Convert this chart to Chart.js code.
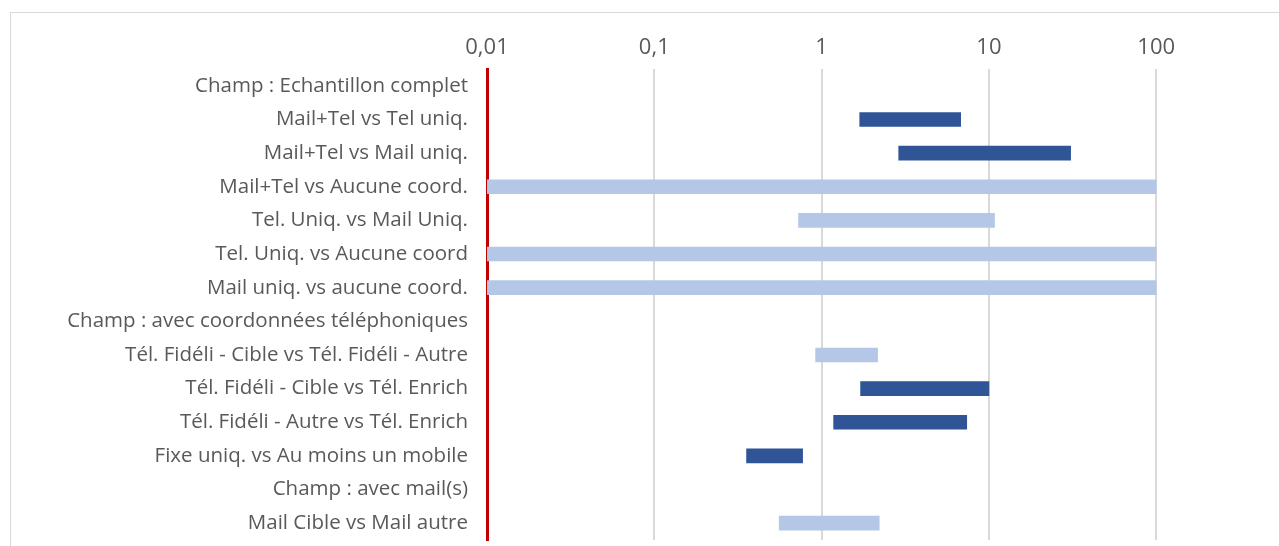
<!DOCTYPE html>
<html>
<head>
<meta charset="utf-8">
<script src="https://cdn.jsdelivr.net/npm/chart.js@4/dist/chart.umd.min.js"></script>
<style>
  html, body { margin: 0; padding: 0; background: #fff; overflow: hidden; }
  #frame {
    position: absolute; left: 10px; top: 12px; width: 2000px; height: 1000px;
    border: 1px solid #d9d9d9; z-index: 0;
  }
  #chart { position: absolute; left: 0; top: 0; z-index: 1; }
</style>
</head>
<body>
<div id="frame"></div>
<canvas id="chart" width="1340" height="546"></canvas>
<script>
/* ---------- data ---------- */
const categories = [
  "Champ : Echantillon complet",
  "Mail+Tel vs Tel uniq.",
  "Mail+Tel vs Mail uniq.",
  "Mail+Tel vs Aucune coord.",
  "Tel. Uniq. vs Mail Uniq.",
  "Tel. Uniq. vs Aucune coord",
  "Mail uniq. vs aucune coord.",
  "Champ : avec coordonnées téléphoniques",
  "Tél. Fidéli - Cible vs Tél. Fidéli - Autre",
  "Tél. Fidéli - Cible vs Tél. Enrich",
  "Tél. Fidéli - Autre vs Tél. Enrich",
  "Fixe uniq. vs Au moins un mobile",
  "Champ : avec mail(s)",
  "Mail Cible vs Mail autre"
];

// significant intervals (dark blue)
const sigLow  = [null, 1.69, 2.89, null, null, null, null, null, null, 1.71, 1.18, 0.356, null, null];
const sigHigh = [null, 6.78, 30.8, null, null, null, null, null, null, 10.0, 7.37, 0.770, null, null];

// non significant intervals (light blue)
const nsLow  = [null, null, null, 0.01, 0.728, 0.01, 0.01, null, 0.921, null, null, null, null, 0.558];
const nsHigh = [null, null, null, 100, 10.8, 100, 100, null, 2.16, null, null, null, null, 2.21];

const tickValues = [0.01, 0.1, 1, 10, 100, 1000];

/* ---------- helpers ---------- */
const toRange = (lo, hi) => lo.map((v, i) => (v === null ? null : [v, hi[i]]));
const frNum = v => String(v).replace(".", ",");
const noPad = scale => {
  scale.paddingLeft = 0;
  scale.paddingRight = 0;
  scale.paddingTop = 0;
  scale.paddingBottom = 0;
};

const GREY = "#595959";
const FONT = "'Open Sans'";

new Chart(document.getElementById("chart"), {
  type: "bar",
  data: {
    labels: categories,
    datasets: [
      {
        label: "Significatif",
        data: toRange(sigLow, sigHigh),
        backgroundColor: "#2f5597",
        barThickness: 14,
        grouped: false
      },
      {
        label: "Non significatif",
        data: toRange(nsLow, nsHigh),
        backgroundColor: "#b4c7e7",
        barThickness: 14,
        grouped: false
      }
    ]
  },
  options: {
    responsive: false,
    animation: false,
    indexAxis: "y",
    layout: { padding: { top: 0, bottom: 6, right: 16.5, left: 0 } },
    plugins: {
      legend: { display: false },
      tooltip: { enabled: false }
    },
    scales: {
      x: {
        type: "logarithmic",
        position: "top",
        min: 0.01,
        max: 1000,
        afterBuildTicks: scale => {
          scale.ticks = tickValues.map(v => ({ value: v }));
        },
        afterFit: scale => { scale.height = 69; noPad(scale); },
        border: { display: false },
        grid: { color: "#d9d9d9", lineWidth: 2, drawTicks: false },
        ticks: {
          padding: 8,
          color: GREY,
          font: { family: FONT, size: 22 },
          callback: v => frNum(v)
        }
      },
      y: {
        afterFit: scale => { scale.width = 487; noPad(scale); },
        border: { display: true, color: "#c00000", width: 3 },
        grid: { display: false, drawTicks: false },
        ticks: {
          padding: 19,
          color: GREY,
          font: { family: FONT, size: 20.5 }
        }
      }
    }
  }
});
</script>
</body>
</html>
